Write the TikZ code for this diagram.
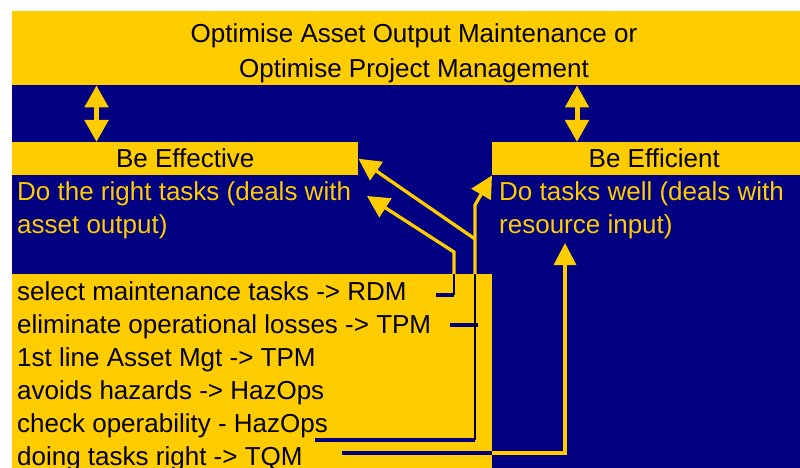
\documentclass[tikz,border=0pt]{standalone}
\usepackage{fontspec}
\setmainfont{Liberation Sans}
\usetikzlibrary{arrows.meta}
\definecolor{gold}{HTML}{FFCC00}
\definecolor{navy}{HTML}{000080}
\begin{document}
\begin{tikzpicture}[x=1pt,y=-1pt,
 big/.style={font=\fontsize{26}{33}\selectfont},
 bar/.style={fill=gold,inner sep=0pt,anchor=north west,big},
 txt/.style={inner sep=0pt,anchor=base west,align=left,big},
 link/.style={gold,line width=3.3pt},
 tiplink/.style={link,-{Triangle[length=22pt,width=22pt]}},
 dbl/.style={gold,line width=5pt,{Triangle[length=22pt,width=23pt]}-{Triangle[length=22pt,width=23pt]}},
 inbox/.style={navy,line width=4pt},
 stem/.style={black,line width=1.3pt}]
%\draw[gray,step=50] (0,0) grid (800,468);
\useasboundingbox (0,0) rectangle (800,468);
\clip (0,0) rectangle (800,468);
\fill[navy] (12,11) rectangle (816,480);
\node[bar,minimum width=804pt,minimum height=74pt] (goal) at (12,11) {};
\node[inner sep=0pt,anchor=base,align=center,font=\fontsize{26}{35}\selectfont] (goaltxt) at (414,78) {Optimise Asset Output Maintenance or\\Optimise Project Management};
\node[bar,minimum width=346pt,minimum height=33pt] (eff) at (12,142) {Be Effective};
\node[bar,minimum width=324pt,minimum height=33pt] (effi) at (492,142) {Be Efficient};
\node[txt,gold] (efftxt) at (17,233) {Do the right tasks (deals with\\asset output)};
\node[txt,gold] (effitxt) at (499,233) {Do tasks well (deals with\\resource input)};
\node[bar,minimum width=480pt,minimum height=200pt] (plan) at (12,274) {};
\node[txt] (rdm) at (17,300) {select maintenance tasks -> RDM};
\node[txt] (tpm) at (17,333) {eliminate operational losses -> TPM};
\node[txt] (mgt) at (17,366) {1st line Asset Mgt -> TPM};
\node[txt] (haz) at (17,399) {avoids hazards -> HazOps};
\node[txt] (chk) at (17,432) {check operability - HazOps};
\node[txt] (tqm) at (17,465) {doing tasks right -> TQM};
\coordinate (lft) at (96.5,0); \coordinate (rgt) at (577,0);
\draw[dbl] (goal.south -| lft) -- (eff.north -| lft);
\draw[dbl] (goal.south -| rgt) -- (effi.north -| rgt);
\coordinate (rdmout) at (436,295); \coordinate (rdmup) at (454,252);
\coordinate (tpmout) at (450,325); \coordinate (chkout) at (315,440);
\coordinate (trunk) at (475,205); \coordinate (fork) at (475,239);
\coordinate (tqmout) at (342,453);
\coordinate (effin) at (367,196); \coordinate (effiin) at (565,243);
\draw[inbox] (rdmout) -- (rdmout -| rdmup);
\draw[stem] (rdmout -| rdmup) -- (rdmup |- plan.north);
\draw[tiplink] (rdmup |- plan.north) -- (rdmup) -- (effin);
\draw[inbox] (tpmout) -- ++(28,0);
\draw[inbox] (chkout) -- (chkout -| trunk);
\draw[stem] (chkout -| trunk) -- (trunk |- plan.north);
\draw[tiplink] (trunk |- plan.north) -- (trunk) -- (effi.south west);
\draw[tiplink] (fork) -- (eff.east);
\draw[inbox] (tqmout) -- (tqmout -| plan.east);
\draw[tiplink] (tqmout -| plan.east) -| (effiin);
\end{tikzpicture}
\end{document}
